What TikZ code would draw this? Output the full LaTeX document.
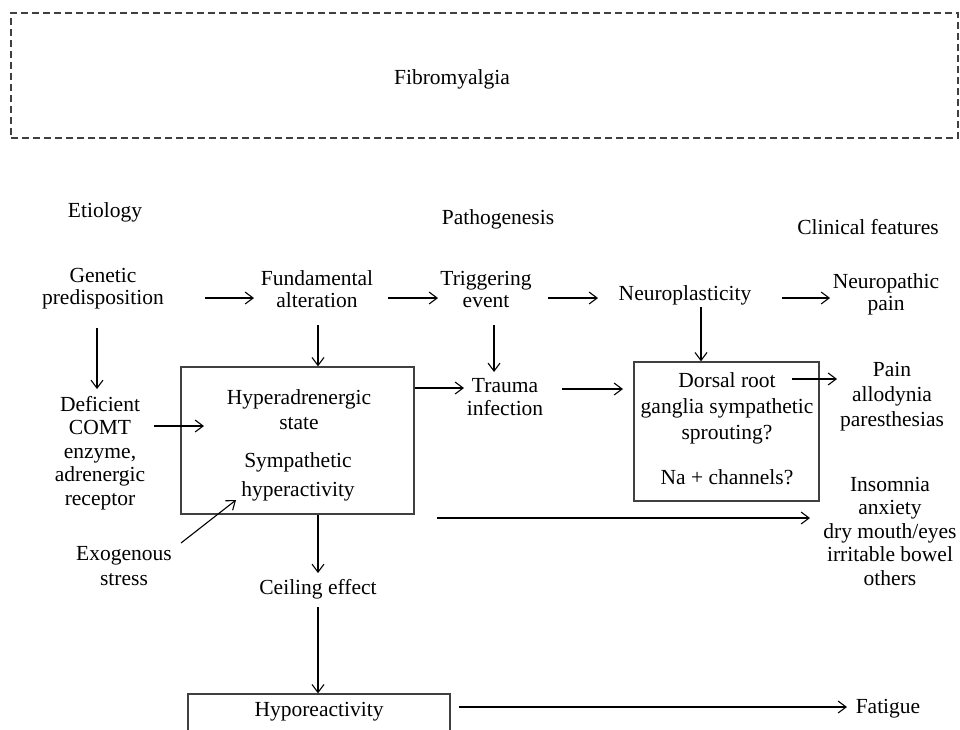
\documentclass[tikz,border=0pt]{standalone}
\usepackage{fontspec}
\setmainfont{Liberation Serif}
\usetikzlibrary{arrows.meta}
\begin{document}
\begin{tikzpicture}[x=1pt,y=-1pt,
  txt/.style={inner sep=0pt,align=center,font=\fontsize{21.5}{23}\selectfont},
  arr/.style={-{Straight Barb[length=8pt,width=12pt]},line width=1.1pt},
  boxst/.style={draw=black!75,line width=1.3pt,inner sep=0pt}]
\useasboundingbox (0,0) rectangle (960,729);
\clip (0,0) rectangle (960,729);
% top dashed frame
\node[boxst,dash pattern=on 7pt off 4pt,minimum width=947pt,minimum height=125pt] (fbox) at (484.5,75.5) {};
\node[txt] (fibro) at (452,79) {Fibromyalgia};
% headers
\node[txt] (etio) at (105,212) {Etiology};
\node[txt] (patho) at (498,219) {Pathogenesis};
\node[txt] (clin) at (868,227) {Clinical features};
% row 1
\node[txt,font=\fontsize{21.5}{22}\selectfont] (gen) at (103,289) {Genetic\\predisposition};
\node[txt,font=\fontsize{21.5}{22}\selectfont] (fund) at (317,289) {Fundamental\\alteration};
\node[txt,font=\fontsize{21.5}{22}\selectfont] (trig) at (486,289) {Triggering\\event};
\node[txt] (neuro) at (685,295) {Neuroplasticity};
\node[txt,font=\fontsize{21.5}{22}\selectfont] (npain) at (886,294) {Neuropathic\\pain};
% etiology column
\node[txt,font=\fontsize{21.5}{23.5}\selectfont] (defic) at (100,453) {Deficient\\COMT\\enzyme,\\adrenergic\\receptor};
\node[txt,font=\fontsize{21.5}{25}\selectfont] (exo) at (124,566) {Exogenous\\stress};
% hyperadrenergic box
\node[boxst,minimum width=233pt,minimum height=147pt] (hbox) at (297.5,440.5) {};
\node[txt,font=\fontsize{21.5}{25}\selectfont] (hstate) at (299,410) {Hyperadrenergic\\state};
\node[txt,font=\fontsize{21.5}{29}\selectfont] (symp) at (298,477) {Sympathetic\\hyperactivity};
% trauma
\node[txt] (trauma) at (505,397) {Trauma\\infection};
% dorsal box
\node[boxst,minimum width=185pt,minimum height=139pt] (dbox) at (726.5,431.5) {};
\node[txt,font=\fontsize{21.5}{26}\selectfont] (dorsal) at (727,408) {Dorsal root\\ganglia sympathetic\\sprouting?};
\node[txt] (na) at (727,477) {Na + channels?};
% clinical column
\node[txt,font=\fontsize{21.5}{25}\selectfont] (pain) at (892,397) {Pain\\allodynia\\paresthesias};
\node[txt,font=\fontsize{21.5}{23.5}\selectfont] (insom) at (890,531) {Insomnia\\anxiety\\dry mouth/eyes\\irritable bowel\\others};
% lower part
\node[txt] (ceil) at (318,589) {Ceiling effect};
\node[boxst,minimum width=262pt,minimum height=46pt] (hypobox) at (319,717) {};
\node[txt] (hypo) at (319,712) {Hyporeactivity};
\node[txt] (fatigue) at (888,709) {Fatigue};
% connectors
\draw[arr] ([shift={(102,9)}]gen.center) -- ([shift={(-63,9)}]fund.center);
\draw[arr] ([shift={(71,9)}]fund.center) -- ([shift={(-48,9)}]trig.center);
\draw[arr] ([shift={(62,9)}]trig.center) -- ([shift={(-87,3)}]neuro.center);
\draw[arr] ([shift={(97,3)}]neuro.center) -- ([shift={(-56,4)}]npain.center);
\draw[arr] ([shift={(-6,39)}]gen.center) -- ([shift={(-3,-64)}]defic.center);
\draw[arr] ([shift={(1,36)}]fund.center) -- ([xshift=20.5pt]hbox.north);
\draw[arr] ([shift={(8,36)}]trig.center) -- ([shift={(-11,-25)}]trauma.center);
\draw[arr] ([shift={(16,12)}]neuro.center) -- ([xshift=-25.5pt]dbox.north);
\draw[arr] ([shift={(54,-27)}]defic.center) -- ([shift={(-93.5,-14.5)}]hbox.center);
\draw[arr] ([shift={(0,-52.5)}]hbox.east) -- ([shift={(-41,-9)}]trauma.center);
\draw[arr] ([shift={(57,-8)}]trauma.center) -- ([shift={(-103.5,-42.5)}]dbox.center);
\draw[arr] ([shift={(65.5,-52.5)}]dbox.center) -- ([shift={(-55,-18)}]pain.center);
\draw[arr] ([shift={(139.5,77.5)}]hbox.center) -- ([shift={(-80,-13)}]insom.center);
\draw[arr] ([shift={(57,-23)}]exo.center) -- ([shift={(-61.5,59.5)}]hbox.center);
\draw[arr] ([xshift=20.5pt]hbox.south) -- ([shift={(0,-16)}]ceil.center);
\draw[arr] ([shift={(0,18)}]ceil.center) -- ([xshift=-1pt]hypobox.north);
\draw[arr] ([shift={(140,-10)}]hypobox.center) -- ([shift={(-41,-2)}]fatigue.center);
\end{tikzpicture}
\end{document}
